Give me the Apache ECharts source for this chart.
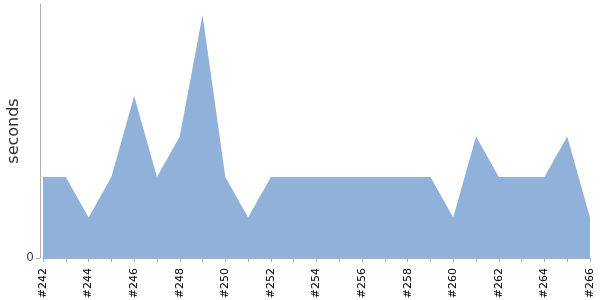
<!DOCTYPE html>
<html><head><meta charset="utf-8">
<script src="https://cdn.jsdelivr.net/npm/echarts@6/dist/echarts.min.js"></script>
<style>html,body{margin:0;padding:0;background:#fff}#c{width:600px;height:300px}</style>
</head><body><div id="c"></div>
<script>
const categories = ['#242','#243','#244','#245','#246','#247','#248','#249','#250','#251','#252','#253','#254','#255','#256','#257','#258','#259','#260','#261','#262','#263','#264','#265','#266'];
const seconds = [2,2,1,2,4,2,3,6,2,1,2,2,2,2,2,2,2,2,1,3,2,2,2,3,1];
const yTickLabels = [0];

const chart = echarts.init(document.getElementById('c'), null, {renderer:'canvas'});
chart.setOption({
  animation:false,
  grid:{left:43,right:10,top:4,bottom:42,containLabel:false,outerBoundsMode:'none'},
  xAxis:{
    type:'category', data:categories, boundaryGap:false, offset:5,
    axisLine:{lineStyle:{color:'#b0b0b0',width:1}},
    axisTick:{interval:0,length:4,lineStyle:{color:'#b0b0b0'}},
    axisLabel:{interval:1,rotate:90,margin:5,color:'#000',fontFamily:'DejaVu Sans',fontSize:11},
    splitLine:{show:false}
  },
  yAxis:{
    type:'value', min:0, max:6.27, offset:3,
    name:'seconds', nameLocation:'middle', nameGap:18, nameRotate:90, nameMoveOverlap:false,
    nameTextStyle:{fontFamily:'DejaVu Sans',fontSize:16,color:'#333'},
    axisLine:{show:true,lineStyle:{color:'#b0b0b0',width:1}},
    axisTick:{show:true,length:4,customValues:yTickLabels,lineStyle:{color:'#b0b0b0'}},
    axisLabel:{customValues:yTickLabels,margin:6,color:'#444',fontFamily:'DejaVu Sans',fontSize:12},
    splitLine:{show:false}
  },
  series:[{
    type:'line', data:seconds, symbol:'none',
    lineStyle:{width:0,color:'#8fb1da'},
    areaStyle:{color:'#8fb1da',opacity:1}
  }]
});
</script></body></html>
